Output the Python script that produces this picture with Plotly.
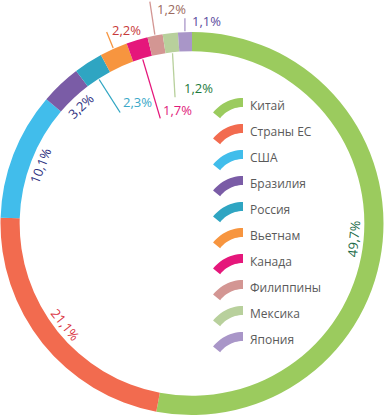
import numpy as np
import plotly.graph_objects as go

countries = ["Китай", "Страны ЕС", "США", "Бразилия", "Россия", "Вьетнам",
             "Канада", "Филиппины", "Мексика", "Япония"]
shares = [49.7, 21.1, 10.1, 3.2, 2.3, 2.2, 1.7, 1.2, 1.2, 1.1]
share_labels = ["49,7%", "21,1%", "10,1%", "3,2%", "2,3%", "2,2%",
                "1,7%", "1,2%", "1,2%", "1,1%"]

colors = ["#9bcb5e", "#f26b4f", "#41bdeb", "#7a5ca6", "#2fa5c2", "#f7953f",
          "#e5177b", "#d39693", "#b8d09c", "#a996c8"]
label_colors = ["#1b6b48", "#d93040", "#2e3080", "#2e3080", "#3aa8c8", "#c83a3a",
                "#e0187a", "#9c6a60", "#1e7a3c", "#5b4b9e"]

W, H = 384, 415
FONT = "Open Sans, Noto Sans, sans-serif"

# pie geometry (pixels)
R_OUT = 191.5
HOLE = 0.9
R_IN = R_OUT * HOLE
CX, CY = W / 2, H - R_OUT  # centre of the donut

def px(x, y):
    return x / W, 1 - y / H

total = sum(shares)
cum = np.cumsum([0] + shares)
mid_deg = [(cum[i] + shares[i] / 2) / total * 360 for i in range(len(shares))]

def polar(r, deg):
    t = np.radians(deg)
    return CX + r * np.sin(t), CY - r * np.cos(t)

fig = go.Figure()
fig.add_trace(go.Pie(
    values=shares, labels=countries, sort=False, direction="clockwise",
    rotation=0, hole=HOLE, textinfo="none", hoverinfo="skip",
    marker=dict(colors=colors, line=dict(width=0)),
    domain=dict(x=[0, 1], y=[0, 2 * R_OUT / H]), showlegend=False,
))

annotations = []
shapes = []

# tangential labels for the big slices (inside the hole)
for i in range(4):
    x, y = polar(162, mid_deg[i])
    a = mid_deg[i] % 180
    if a > 90:
        a -= 180
    xp, yp = px(x, y)
    annotations.append(dict(x=xp, y=yp, xref="paper", yref="paper", text=share_labels[i],
                            showarrow=False, textangle=a, xanchor="center", yanchor="middle",
                            font=dict(family=FONT, size=13, color=label_colors[i])))

# leader-line labels: (side, dx, dy, tx, ty)
leader = {
    4: ("in", 21, 33, 1, -10),
    5: ("out", -6.5, -16, 3, -2),
    6: ("in", 17.5, 59, 1, -8),
    7: ("out", -5, -33, 5, 7),
    8: ("in", 2.5, 44, 7, -9),
    9: ("out", 0, -13, 5, 3),
}
for i, (side, dx, dy, tx, ty) in leader.items():
    r = R_OUT + 1 if side == "out" else R_IN - 1
    x0, y0 = polar(r, mid_deg[i])
    x1, y1 = x0 + dx, y0 + dy
    a0 = px(x0, y0)
    a1 = px(x1, y1)
    shapes.append(dict(type="line", xref="paper", yref="paper", x0=a0[0], y0=a0[1],
                       x1=a1[0], y1=a1[1], line=dict(color=colors[i], width=1.3)))
    tp = px(x1 + tx, y1 + ty)
    annotations.append(dict(x=tp[0], y=tp[1], xref="paper", yref="paper", text=share_labels[i],
                            showarrow=False, xanchor="left", yanchor="middle",
                            font=dict(family=FONT, size=13, color=label_colors[i])))

# custom legend with arc-shaped keys
LEG_X_TEXT = 248
LEG_Y0 = 105
LEG_DY = 26
for i, name in enumerate(countries):
    yc = LEG_Y0 + i * LEG_DY
    acx, acy = 243, yc + 31
    ro, ri = 38, 29
    angs = np.linspace(0, -52, 14)
    outer = [(acx + ro * np.sin(np.radians(a)), acy - ro * np.cos(np.radians(a))) for a in angs]
    inner = [(acx + ri * np.sin(np.radians(a)), acy - ri * np.cos(np.radians(a))) for a in angs[::-1]]
    pts = outer + inner
    path = ""
    for k, (x, y) in enumerate(pts):
        p = px(x, y)
        path += ("M" if k == 0 else "L") + f"{p[0]:.5f},{p[1]:.5f} "
    path += "Z"
    shapes.append(dict(type="path", xref="paper", yref="paper", path=path,
                       fillcolor=colors[i], line=dict(width=0)))
    tp = px(LEG_X_TEXT, yc)
    annotations.append(dict(x=tp[0], y=tp[1], xref="paper", yref="paper", text=name,
                            showarrow=False, xanchor="left", yanchor="middle",
                            font=dict(family=FONT, size=12, color="#5a5a5a")))

fig.update_layout(
    width=W, height=H, margin=dict(l=0, r=0, t=0, b=0),
    paper_bgcolor="white", plot_bgcolor="white",
    shapes=shapes, annotations=annotations, showlegend=False,
)

fig.write_html("out.html", config={"displayModeBar": False},
               post_script="document.body.style.margin='0px';")
